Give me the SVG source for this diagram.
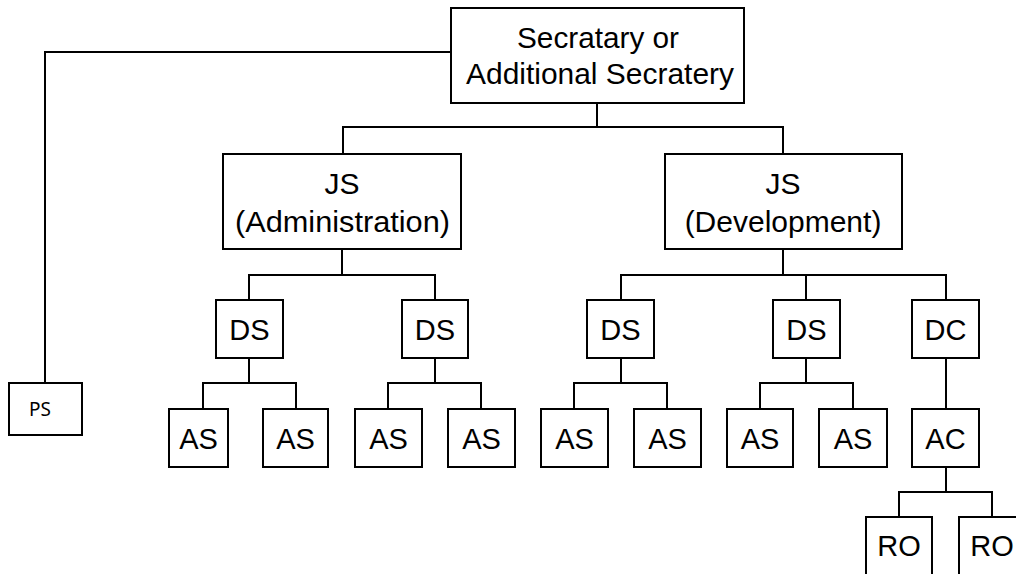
<svg xmlns="http://www.w3.org/2000/svg" width="1016" height="574" viewBox="0 0 1016 574">
  <style>
    .box { fill: #ffffff; stroke: #000000; stroke-width: 2; }
    .wire { fill: none; stroke: #000000; stroke-width: 2; }
    .lbl { font-family: "Liberation Sans", Arial, sans-serif; font-size: 29px; fill: #000000; text-anchor: middle; }
    .big { font-size: 30px; }
    .small { font-family: "Noto Sans", "Open Sans", sans-serif; font-size: 19px; fill: #000000; }
  </style>
  <rect width="1016" height="574" fill="#ffffff"/>

  <!-- connectors -->
  <g id="connectors" class="wire">
    <!-- secretary to PS -->
    <polyline points="451,52 45,52 45,383"/>
    <!-- secretary to JS pair -->
    <polyline points="597,103 597,127"/>
    <polyline points="343,154 343,127 783,127 783,154"/>
    <!-- JS administration to DS -->
    <polyline points="342,249 342,275"/>
    <polyline points="249,300 249,275 435,275 435,300"/>
    <!-- JS development to DS/DC -->
    <polyline points="783,249 783,275"/>
    <polyline points="621,300 621,275 946,275 946,300"/>
    <line x1="806" y1="275" x2="806" y2="300"/>
    <!-- DS to AS groups -->
    <polyline points="249,358 249,383"/>
    <polyline points="203,409 203,383 296,383 296,409"/>
    <polyline points="435,358 435,383"/>
    <polyline points="388,409 388,383 481,383 481,409"/>
    <polyline points="621,358 621,383"/>
    <polyline points="574,409 574,383 667,383 667,409"/>
    <polyline points="806,358 806,383"/>
    <polyline points="760,409 760,383 853,383 853,409"/>
    <!-- DC to AC -->
    <line x1="946" y1="358" x2="946" y2="409"/>
    <!-- AC to RO -->
    <polyline points="946,467 946,492"/>
    <polyline points="899,517 899,492 992,492 992,517"/>
  </g>

  <g id="secretary">
    <rect class="box" x="451" y="8" width="293" height="95"/>
    <text class="lbl big" x="598" y="48" textLength="162" lengthAdjust="spacingAndGlyphs">Secratary or</text>
    <text class="lbl big" x="600" y="84" textLength="268" lengthAdjust="spacingAndGlyphs">Additional Secratery</text>
  </g>

  <g id="ps">
    <rect class="box" x="9" y="383" width="73" height="52"/>
    <text class="small" x="29" y="416">PS</text>
  </g>

  <g id="js-admin">
    <rect class="box" x="223" y="154" width="238" height="95"/>
    <text class="lbl big" x="342" y="194">JS</text>
    <text class="lbl big" x="342.5" y="232" textLength="215" lengthAdjust="spacingAndGlyphs">(Administration)</text>
  </g>

  <g id="js-dev">
    <rect class="box" x="665" y="154" width="237" height="95"/>
    <text class="lbl big" x="783" y="194">JS</text>
    <text class="lbl big" x="783" y="232">(Development)</text>
  </g>

  <g id="ds-1">
    <rect class="box" x="216" y="300" width="67" height="58"/>
    <text class="lbl" x="249.5" y="340">DS</text>
  </g>
  <g id="ds-2">
    <rect class="box" x="402" y="300" width="66" height="58"/>
    <text class="lbl" x="435" y="340">DS</text>
  </g>
  <g id="ds-3">
    <rect class="box" x="587" y="300" width="67" height="58"/>
    <text class="lbl" x="620.5" y="340">DS</text>
  </g>
  <g id="ds-4">
    <rect class="box" x="773" y="300" width="67" height="58"/>
    <text class="lbl" x="806.5" y="340">DS</text>
  </g>
  <g id="dc">
    <rect class="box" x="912" y="300" width="67" height="58"/>
    <text class="lbl" x="945.5" y="340">DC</text>
  </g>

  <g id="as-1">
    <rect class="box" x="169" y="409" width="59" height="58"/>
    <text class="lbl" x="198.5" y="449">AS</text>
  </g>
  <g id="as-2">
    <rect class="box" x="263" y="409" width="65" height="58"/>
    <text class="lbl" x="295.5" y="449">AS</text>
  </g>
  <g id="as-3">
    <rect class="box" x="355" y="409" width="67" height="58"/>
    <text class="lbl" x="388.5" y="449">AS</text>
  </g>
  <g id="as-4">
    <rect class="box" x="448" y="409" width="67" height="58"/>
    <text class="lbl" x="481.5" y="449">AS</text>
  </g>
  <g id="as-5">
    <rect class="box" x="541" y="409" width="67" height="58"/>
    <text class="lbl" x="574.5" y="449">AS</text>
  </g>
  <g id="as-6">
    <rect class="box" x="634" y="409" width="67" height="58"/>
    <text class="lbl" x="667.5" y="449">AS</text>
  </g>
  <g id="as-7">
    <rect class="box" x="727" y="409" width="66" height="58"/>
    <text class="lbl" x="760" y="449">AS</text>
  </g>
  <g id="as-8">
    <rect class="box" x="819" y="409" width="68" height="58"/>
    <text class="lbl" x="853" y="449">AS</text>
  </g>
  <g id="ac">
    <rect class="box" x="912" y="409" width="67" height="58"/>
    <text class="lbl" x="945.5" y="449">AC</text>
  </g>

  <g id="ro-1">
    <rect class="box" x="866" y="517" width="66" height="60"/>
    <text class="lbl" x="899" y="556">RO</text>
  </g>
  <g id="ro-2">
    <rect class="box" x="959" y="517" width="66" height="60"/>
    <text class="lbl" x="992" y="556">RO</text>
  </g>
</svg>
